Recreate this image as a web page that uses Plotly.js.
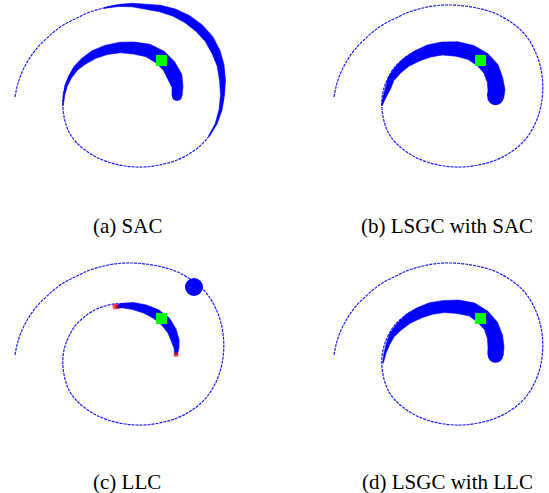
<!DOCTYPE html>
<html><head><meta charset="utf-8">
<script src="https://cdn.plot.ly/plotly-3.0.1.min.js"></script>
<style>html,body{margin:0;padding:0;background:#fff}</style>
</head><body>
<div id="chart" style="width:549px;height:493px"></div>
<script>
// ---- data (panel-local pixel units) ----
const panelLabels = ['(a) SAC', '(b) LSGC with SAC', '(c) LLC', '(d) LSGC with LLC'];

// common spiral trajectory (thin dotted path)
const spiralX = [15,17,20,25,31,38,46,55,65,77,90,104,118,132,146,160,174,187,199,209,216,221,223.5,223.5,221,216,209,200,189,177,164,150,136,122,108,96,85,76,69,65,63,63,65,69,75,83,93,105,119,134,148,160,169,175,177.5,177];
const spiralY = [97,87,77,66,56,47,39,31,24,18,12,8,5.5,5,6,8.5,12.5,19,27.5,38.5,51,65,80,95,110,124,136,146,154,160,164,166.5,167,165.5,162,157,150,142,132,121,109,99,88,78,68,60,53,48,45.5,47.5,50,57,66,77,87,96];

// (a) SAC: thick outer band
const aOuterX = [104,118,132,146,160,174,187,199,209,216,220.5,222.5,222.5,220.5,216,209];
const aOuterY = [8,5.5,5,6.5,8.5,12.5,19,28,39,52,65,80,95,110,124,136];
const aOuterW = [0.8,2,3.5,5,6.5,7.5,8.5,9,9,8.5,7,6,4,3,1.8,0.8];
// (a) SAC: inner crescent
const aInnerX = [63,64,66,70,76,84,94,106,120,134,148,160,169,175,177.5,177];
const aInnerY = [105,95,86,77,68,61,54.5,50,47.5,48,50.5,57,66,77,87,96];
const aInnerW = [0.8,1.5,2.5,3.5,5,7,8.5,9.5,10.5,12,13,14,14,14.5,11,10];
// (b) LSGC with SAC: inner crescent
const bInnerX = [63,65.5,69,72,79,87,98,110,123,138,152,164,172,176,177.5,176.5];
const bInnerY = [105,97,88,79,70,62.5,56,51,48.5,49,52.5,60,69,80,90,97];
const bInnerW = [1,3,5.5,6.5,8,9.5,11,12.5,13,14.5,15,16,16.5,16,17,16.5];
// (c) LLC: crescent between the two red marks
const cInnerX = [116,122,133,145,156,165.5,172,175.5,176.5,176];
const cInnerY = [49,47.5,48,51,56,63.5,73,83,90,95.5];
const cInnerW = [3,4.5,7,8.5,10,10.5,9,7.5,5,3];
// (d) LSGC with LLC: inner crescent
const dInnerX = [64,66,69,73,80,89,100,112,125,139,153,164,172,176,177,176.5];
const dInnerY = [105,95,86,77,69,61,55,50.5,48.5,48.75,51.5,59,68,79,89,97];
const dInnerW = [0.8,2,3.5,5.5,7.5,9.5,11,12,12,13.5,14,15,15,15.5,16,15.5];

// markers
const targetX = [161.5], targetY = [60.5];
const obstacleX = [194], obstacleY = [29];
const redMarkX = [115.5, 176], redMarkY = [48.5, 96.5];

// ---- drawing ----
const BLUE = '#0000ff';
function bandTrace(xs, ys, ws, ax) {
  const n = xs.length, L = [], R = [];
  for (let i = 0; i < n; i++) {
    const i0 = Math.max(i - 1, 0), i1 = Math.min(i + 1, n - 1);
    const dx = xs[i1] - xs[i0], dy = ys[i1] - ys[i0];
    const len = Math.hypot(dx, dy) || 1;
    const nx = -dy / len, ny = dx / len, h = ws[i] / 2;
    L.push([xs[i] + nx * h, ys[i] + ny * h]);
    R.push([xs[i] - nx * h, ys[i] - ny * h]);
  }
  const poly = L.concat(R.reverse());
  poly.push(poly[0]);
  return [{
    x: poly.map(p => p[0]), y: poly.map(p => p[1]), xaxis: ax[0], yaxis: ax[1],
    mode: 'lines', fill: 'toself', fillcolor: BLUE,
    line: {color: BLUE, width: 0.6, shape: 'linear'}, hoverinfo: 'skip'
  }, {
    x: [xs[n - 1]], y: [ys[n - 1]], xaxis: ax[0], yaxis: ax[1], mode: 'markers',
    marker: {color: BLUE, size: ws[n - 1], line: {width: 0}}, hoverinfo: 'skip'
  }];
}
function spiralTrace(ax) {
  return {x: spiralX, y: spiralY, xaxis: ax[0], yaxis: ax[1], mode: 'lines',
    line: {color: 'rgba(0,0,255,0.9)', width: 1.2, dash: '3px,1px', shape: 'spline'}, hoverinfo: 'skip'};
}
function targetTrace(ax) {
  return {x: targetX, y: targetY, xaxis: ax[0], yaxis: ax[1], mode: 'markers',
    marker: {symbol: 'square', color: '#00ff00', size: 11, line: {width: 0}}, hoverinfo: 'skip'};
}

const A = ['x', 'y'], B = ['x2', 'y2'], C = ['x3', 'y3'], D = ['x4', 'y4'];
let traces = [];
traces.push(spiralTrace(A), ...bandTrace(aOuterX, aOuterY, aOuterW, A), ...bandTrace(aInnerX, aInnerY, aInnerW, A), targetTrace(A));
traces.push(spiralTrace(B), ...bandTrace(bInnerX, bInnerY, bInnerW, B), targetTrace(B));
traces.push(spiralTrace(C), ...bandTrace(cInnerX, cInnerY, cInnerW, C), targetTrace(C));
traces.push({x: obstacleX, y: obstacleY, xaxis: 'x3', yaxis: 'y3', mode: 'markers',
  marker: {color: BLUE, size: 18, line: {width: 0}}, hoverinfo: 'skip'});
traces.push({x: redMarkX, y: redMarkY, xaxis: 'x3', yaxis: 'y3', mode: 'markers',
  marker: {color: '#ff0000', size: [6, 5], line: {width: 0}}, hoverinfo: 'skip'});
traces.push(spiralTrace(D), ...bandTrace(dInnerX, dInnerY, dInnerW, D), targetTrace(D));

const W = 549, H = 493;
function xa(dom, range) { return {domain: dom, range: range, visible: false, fixedrange: true}; }
const colSplit = 275, rowSplit = 245;
const leftDom = [0, colSplit / W], rightDom = [colSplit / W, 1];
const topDom = [1 - rowSplit / H, 1], botDom = [0, 1 - rowSplit / H];
const offB = 319, offC = 258;
const layout = {
  width: W, height: H, margin: {l: 0, r: 0, t: 0, b: 0},
  paper_bgcolor: '#fff', plot_bgcolor: 'rgba(0,0,0,0)', showlegend: false,
  xaxis:  xa(leftDom,  [0, colSplit]),
  yaxis:  Object.assign(xa(topDom, [rowSplit, 0]), {anchor: 'x'}),
  xaxis2: Object.assign(xa(rightDom, [colSplit - offB, W - offB]), {anchor: 'y2'}),
  yaxis2: Object.assign(xa(topDom, [rowSplit, 0]), {anchor: 'x2'}),
  xaxis3: Object.assign(xa(leftDom,  [0, colSplit]), {anchor: 'y3'}),
  yaxis3: Object.assign(xa(botDom, [H - offC, rowSplit - offC]), {anchor: 'x3'}),
  xaxis4: Object.assign(xa(rightDom, [colSplit - offB, W - offB]), {anchor: 'y4'}),
  yaxis4: Object.assign(xa(botDom, [H - offC, rowSplit - offC]), {anchor: 'x4'}),
  annotations: [
    [127, 226], [447, 226], [127, 482], [447, 482]
  ].map((p, i) => ({
    text: panelLabels[i], xref: 'paper', yref: 'paper', x: p[0] / W, y: 1 - p[1] / H,
    xanchor: 'center', yanchor: 'middle', showarrow: false,
    font: {family: 'Liberation Serif, Times New Roman, serif', size: 21, color: '#000'}
  }))
};
Plotly.newPlot('chart', traces, layout, {displayModeBar: false, staticPlot: true});
</script>
</body></html>
